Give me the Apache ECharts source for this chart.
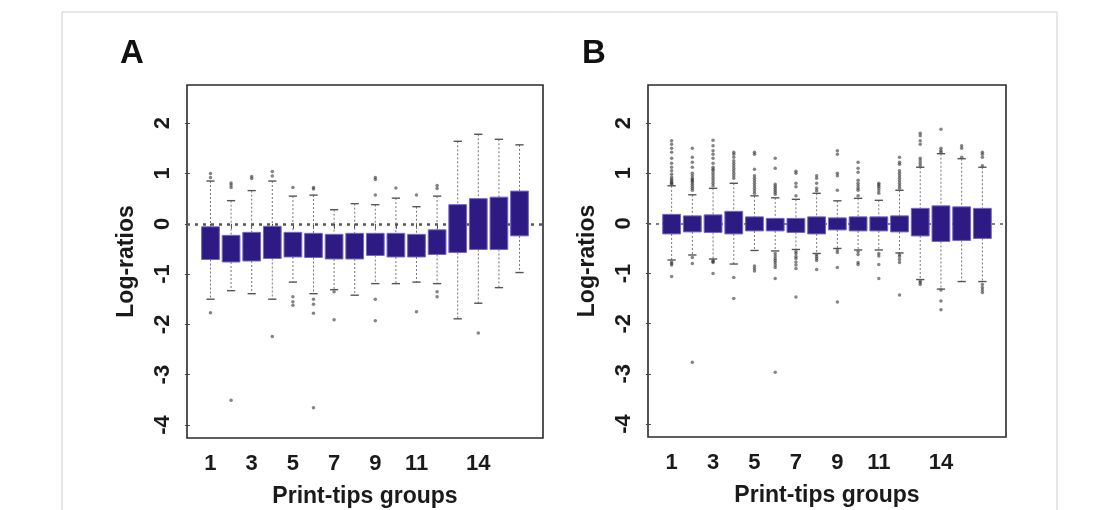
<!DOCTYPE html>
<html>
<head>
<meta charset="utf-8">
<script src="https://cdn.jsdelivr.net/npm/echarts@6/dist/echarts.min.js"></script>
<style>
  html, body { margin: 0; padding: 0; background: #fff; }
  #chart { width: 1119px; height: 510px; }
</style>
</head>
<body>
<div id="chart"></div>
<script>
// print-tip groups and axis ticks
var groups = [1, 2, 3, 4, 5, 6, 7, 8, 9, 10, 11, 12, 13, 14, 15, 16];
var xLabelTicks = [1, 3, 5, 7, 9, 11, 14];
var yTicks = [-4, -3, -2, -1, 0, 1, 2];

// panel A: before normalisation (whisker low, Q1, median, Q3, whisker high)
var aLow  = [-1.50, -1.33, -1.39, -1.50, -1.16, -1.39, -1.31, -1.42, -1.19, -1.19, -1.16, -1.19, -1.89, -1.58, -1.27, -0.97];
var aQ1   = [-0.71, -0.76, -0.74, -0.69, -0.66, -0.67, -0.70, -0.70, -0.63, -0.66, -0.66, -0.61, -0.57, -0.51, -0.51, -0.24];
var aMed  = [-0.38, -0.49, -0.45, -0.37, -0.41, -0.43, -0.45, -0.44, -0.41, -0.42, -0.43, -0.36, -0.10, 0.00, 0.01, 0.20];
var aQ3   = [-0.06, -0.23, -0.17, -0.05, -0.17, -0.19, -0.21, -0.19, -0.19, -0.19, -0.21, -0.12, 0.38, 0.50, 0.53, 0.65];
var aHigh = [0.85, 0.46, 0.66, 0.85, 0.55, 0.57, 0.28, 0.40, 0.38, 0.51, 0.34, 0.55, 1.64, 1.78, 1.68, 1.57];
var aOut = [
  [0.92, 1.00, -1.77],
  [0.72, 0.77, 0.81, -3.51],
  [0.90, 0.94],
  [0.95, 1.04, -2.24],
  [0.72, -1.45, -1.55, -1.62],
  [0.69, 0.72, -1.50, -1.60, -1.78, -3.66],
  [-1.35, -1.91],
  [],
  [0.57, 0.88, 0.92, -1.50, -1.93],
  [0.71],
  [0.57, -1.75],
  [0.70, 0.76, -1.35, -1.45],
  [],
  [-2.17],
  [],
  []
];

// panel B: after print-tip normalisation
var bLow  = [-0.73, -0.63, -0.71, -0.81, -0.54, -0.55, -0.52, -0.60, -0.50, -0.53, -0.53, -0.59, -1.12, -1.31, -1.16, -1.16];
var bQ1   = [-0.21, -0.17, -0.18, -0.21, -0.15, -0.15, -0.18, -0.21, -0.13, -0.15, -0.15, -0.17, -0.25, -0.36, -0.34, -0.30];
var bMed  = [0.00, -0.01, 0.00, 0.01, -0.01, -0.03, -0.04, -0.04, -0.01, -0.01, -0.01, -0.01, 0.02, 0.00, 0.00, 0.00];
var bQ3   = [0.18, 0.15, 0.17, 0.24, 0.13, 0.10, 0.10, 0.13, 0.11, 0.13, 0.13, 0.15, 0.30, 0.35, 0.33, 0.30];
var bHigh = [0.75, 0.57, 0.70, 0.80, 0.55, 0.51, 0.48, 0.60, 0.45, 0.50, 0.46, 0.66, 1.12, 1.39, 1.29, 1.12];
var bOut = [
  [1.65, 1.58, 1.50, 1.42, 1.30, 1.20, 1.12, 1.05, 0.98, 0.92, 0.88, 0.85, 0.82, 0.80, 0.78, -0.77, -0.80, -0.83, -1.06],
  [1.50, 1.32, 1.22, 1.12, 1.00, 0.95, 0.90, 0.87, 0.85, 0.82, 0.78, 0.74, 0.70, 0.66, -0.68, -0.80, -2.77],
  [1.66, 1.55, 1.45, 1.38, 1.30, 1.20, 1.12, 1.08, 1.05, 1.00, 0.95, 0.90, 0.85, 0.80, 0.75, -0.74, -0.76, -0.78, -1.00],
  [1.42, 1.38, 1.32, 1.25, 1.20, 1.15, 1.10, 1.05, 1.00, 0.95, 0.90, -1.08, -1.50],
  [1.42, 1.38, 1.08, 0.95, 0.90, 0.85, 0.80, 0.75, 0.70, 0.65, 0.60, -0.85, -0.90, -0.95],
  [1.30, 1.10, 0.78, 0.74, 0.70, 0.66, 0.62, 0.58, -0.60, -0.65, -0.70, -0.74, -0.78, -0.83, -0.88, -1.10, -2.97],
  [1.04, 1.00, 0.80, 0.73, 0.55, -0.56, -0.60, -0.66, -0.70, -0.77, -0.83, -0.90, -1.47],
  [0.95, 0.90, 0.80, 0.70, 0.65, -0.62, -0.66, -0.70, -0.74, -0.92],
  [1.45, 1.38, 1.00, 0.95, 0.66, -0.53, -0.58, -0.88, -1.57],
  [1.22, 1.10, 1.02, 0.86, 0.80, 0.75, 0.70, 0.66, 0.55, -0.56, -0.62, -0.78, -0.82],
  [0.80, 0.77, 0.74, 0.70, 0.65, 0.60, -0.60, -0.65, -0.82, -1.10],
  [1.32, 1.22, 1.18, 1.05, 1.00, 0.95, 0.90, 0.85, 0.80, 0.75, 0.70, -0.62, -0.66, -0.72, -0.78, -1.43],
  [1.80, 1.75, 1.65, 1.58, 1.30, 1.25, 1.20, 1.15, -1.15, -1.18, -1.22],
  [1.88, 1.50, 1.45, 1.42, -1.33, -1.55, -1.72],
  [1.55, 1.50, 1.32],
  [1.42, 1.38, 1.32, 1.15, -1.22, -1.28, -1.33, -1.38]
];

var BOX_WIDTH = 0.86;
var STAPLE_WIDTH = 0.4;
var BOX_FILL = '#2d1a82';
var BOX_EDGE = '#7366c4';
var FONT = 'Liberation Sans';

function boxRows(low, q1, med, q3, high) {
  return groups.map(function (g, i) {
    return [g, low[i], q1[i], med[i], q3[i], high[i]];
  });
}

function outlierPoints(out) {
  var pts = [];
  out.forEach(function (list, i) {
    list.forEach(function (v) { pts.push([groups[i], v]); });
  });
  return pts;
}

function renderBox(params, api) {
  var x = api.value(0);
  var lo = api.coord([x, api.value(1)]);
  var q1 = api.coord([x, api.value(2)]);
  var md = api.coord([x, api.value(3)]);
  var q3 = api.coord([x, api.value(4)]);
  var hi = api.coord([x, api.value(5)]);
  var half = api.size([BOX_WIDTH, 0])[0] / 2;
  var cap = api.size([STAPLE_WIDTH, 0])[0] / 2;
  var dashed = { stroke: '#777', lineWidth: 1, lineDash: [2, 2] };
  var solid = { stroke: '#555', lineWidth: 1.4 };
  return {
    type: 'group',
    children: [
      { type: 'line', shape: { x1: hi[0], y1: hi[1], x2: q3[0], y2: q3[1] }, style: dashed },
      { type: 'line', shape: { x1: q1[0], y1: q1[1], x2: lo[0], y2: lo[1] }, style: dashed },
      { type: 'line', shape: { x1: hi[0] - cap, y1: hi[1], x2: hi[0] + cap, y2: hi[1] }, style: solid },
      { type: 'line', shape: { x1: lo[0] - cap, y1: lo[1], x2: lo[0] + cap, y2: lo[1] }, style: solid },
      { type: 'rect', shape: { x: q3[0] - half, y: q3[1], width: half * 2, height: q1[1] - q3[1] },
        style: { fill: BOX_FILL, stroke: BOX_EDGE, lineWidth: 1 } },
      { type: 'line', shape: { x1: md[0] - half + 1, y1: md[1], x2: md[0] + half - 1, y2: md[1] },
        style: { stroke: BOX_FILL, lineWidth: 2 } }
    ]
  };
}

function xAxisFor(gridIndex) {
  return {
    type: 'value', gridIndex: gridIndex, min: -0.14, max: 17.14,
    name: 'Print-tips groups', nameLocation: 'middle', nameGap: 47,
    nameTextStyle: { fontFamily: FONT, fontWeight: 'bold', fontSize: 23, color: '#1a1a1a' },
    axisLine: { show: false },
    axisTick: { show: true, length: 5, customValues: groups, lineStyle: { color: '#444' } },
    axisLabel: { customValues: xLabelTicks, margin: 15, fontFamily: FONT, fontWeight: 'bold', fontSize: 22, color: '#1a1a1a' },
    splitLine: { show: false }
  };
}

function yAxisFor(gridIndex) {
  return {
    type: 'value', gridIndex: gridIndex, min: -4.26, max: 2.76,
    name: 'Log-ratios', nameLocation: 'middle', nameGap: 49,
    nameTextStyle: { fontFamily: FONT, fontWeight: 'bold', fontSize: 23, color: '#1a1a1a' },
    axisLine: { show: false },
    axisTick: { show: true, length: 5, customValues: yTicks, lineStyle: { color: '#444' } },
    axisLabel: { customValues: yTicks, rotate: 90, margin: 13, fontFamily: FONT, fontWeight: 'bold', fontSize: 22, color: '#1a1a1a' },
    splitLine: { show: false }
  };
}

function panelSeries(idx, low, q1, med, q3, high, out, zeroWidth) {
  return [
    {
      type: 'scatter', xAxisIndex: idx, yAxisIndex: idx, z: 1,
      data: outlierPoints(out),
      symbol: 'circle', symbolSize: 3.5,
      itemStyle: { color: 'rgba(50,50,50,0.75)' },
      silent: true,
      markLine: {
        silent: true, symbol: 'none', z: 1,
        label: { show: false },
        lineStyle: { color: '#555', width: zeroWidth, type: [3, 5] },
        data: [{ yAxis: 0 }]
      }
    },
    {
      type: 'custom', xAxisIndex: idx, yAxisIndex: idx, z: 3,
      data: boxRows(low, q1, med, q3, high),
      encode: { x: 0, y: [1, 2, 3, 4, 5] },
      renderItem: renderBox,
      silent: true
    }
  ];
}

var chart = echarts.init(document.getElementById('chart'));
chart.setOption({
  backgroundColor: '#fff',
  animation: false,
  title: [
    { text: 'A', left: 115, top: 32, textStyle: { fontFamily: FONT, fontWeight: 'bold', fontSize: 33, color: '#111' } },
    { text: 'B', left: 577, top: 32, textStyle: { fontFamily: FONT, fontWeight: 'bold', fontSize: 33, color: '#111' } }
  ],
  graphic: [{
    type: 'rect', silent: true,
    shape: { x: 62, y: 12, width: 995, height: 520 },
    style: { fill: 'none', stroke: '#cfcfcf', lineWidth: 1 }
  }],
  grid: [
    { left: 187, top: 85, width: 356, height: 353, outerBoundsMode: 'none', show: true, borderColor: '#2a2a2a', borderWidth: 1.6, backgroundColor: '#fff' },
    { left: 648, top: 85, width: 358, height: 352, outerBoundsMode: 'none', show: true, borderColor: '#2a2a2a', borderWidth: 1.6, backgroundColor: '#fff' }
  ],
  xAxis: [xAxisFor(0), xAxisFor(1)],
  yAxis: [yAxisFor(0), yAxisFor(1)],
  series: panelSeries(0, aLow, aQ1, aMed, aQ3, aHigh, aOut, 2.5)
    .concat(panelSeries(1, bLow, bQ1, bMed, bQ3, bHigh, bOut, 1.5))
});
</script>
</body>
</html>
